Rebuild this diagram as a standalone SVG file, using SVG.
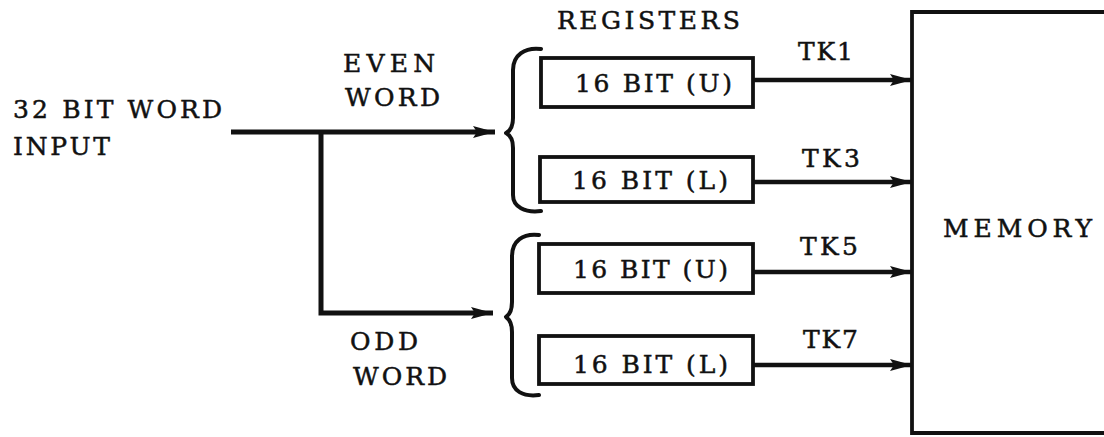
<svg xmlns="http://www.w3.org/2000/svg" width="1104" height="437" viewBox="0 0 1104 437">
  <style>
    text { font-family: "DejaVu Serif", "Liberation Serif", serif; font-size: 25px; fill: #111; stroke: #111; stroke-width: 0.5; }
    .reg { fill: none; stroke: #111; stroke-width: 3.8; }
    .wire { fill: none; stroke: #111; stroke-width: 5; stroke-linejoin: miter; }
    .bus { fill: none; stroke: #111; stroke-width: 4.3; }
    .brace { fill: none; stroke: #111; stroke-width: 4; stroke-linecap: round; stroke-linejoin: round; }
  </style>
  <defs>
    <marker id="head" markerUnits="userSpaceOnUse" markerWidth="24" markerHeight="14" refX="22" refY="7" orient="auto">
      <path d="M0,1 L22,7 L0,13 L4,7 Z" fill="#111"/>
    </marker>
  </defs>
  <rect width="1104" height="437" fill="#fff"/>

  <!-- input label -->
  <g id="input-label">
    <text x="13" y="118" textLength="209" lengthAdjust="spacing">32 BIT WORD</text>
    <text x="13" y="155" textLength="97" lengthAdjust="spacing">INPUT</text>
  </g>

  <g id="even-label">
    <text x="343" y="72" textLength="92" lengthAdjust="spacing">EVEN</text>
    <text x="345" y="106" textLength="95" lengthAdjust="spacing">WORD</text>
  </g>

  <g id="odd-label">
    <text x="350" y="350" textLength="68" lengthAdjust="spacing">ODD</text>
    <text x="353" y="385" textLength="94" lengthAdjust="spacing">WORD</text>
  </g>

  <g id="registers-title">
    <text x="557" y="29" textLength="183" lengthAdjust="spacing">REGISTERS</text>
  </g>

  <!-- register pairs grouped by braces -->
  <g id="even-brace">
    <path class="brace" d="M541,49 C525,47 513,55 513,70 L513,118 C513,127 510,131 506,133 C510,135 513,139 513,148 L513,195 C513,207 525,213 541,211"/>
  </g>
  <g id="odd-brace">
    <path class="brace" d="M539,235 C523,233 512,241 512,256 L512,302 C512,311 509,315 506,317 C509,319 512,323 512,332 L512,378 C512,391 523,397 539,395"/>
  </g>

  <g id="reg-even-upper">
    <rect class="reg" x="541" y="58" width="212" height="49"/>
    <text x="575" y="92" textLength="157" lengthAdjust="spacing">16 BIT (U)</text>
  </g>
  <g id="reg-even-lower">
    <rect class="reg" x="540" y="157" width="213" height="45"/>
    <text x="572" y="189" textLength="156" lengthAdjust="spacing">16 BIT (L)</text>
  </g>
  <g id="reg-odd-upper">
    <rect class="reg" x="539" y="244" width="214" height="49"/>
    <text x="573" y="278" textLength="155" lengthAdjust="spacing">16 BIT (U)</text>
  </g>
  <g id="reg-odd-lower">
    <rect class="reg" x="539" y="336" width="214" height="48"/>
    <text x="573" y="373" textLength="155" lengthAdjust="spacing">16 BIT (L)</text>
  </g>

  <!-- memory block, extends past the right edge -->
  <g id="memory">
    <path class="reg" d="M1110,12 H912 V433 H1110"/>
    <text x="943" y="237" textLength="149" lengthAdjust="spacing">MEMORY</text>
  </g>

  <g id="connectors">
    <path class="wire" d="M231,132 H495" marker-end="url(#head)"/>
    <path class="wire" d="M321,132 V313 H493" marker-end="url(#head)"/>
    <path class="bus" d="M753,80 H912" marker-end="url(#head)"/>
    <path class="bus" d="M753,182 H912" marker-end="url(#head)"/>
    <path class="bus" d="M753,272 H912" marker-end="url(#head)"/>
    <path class="bus" d="M753,365 H912" marker-end="url(#head)"/>
    <text x="798" y="60" textLength="55" lengthAdjust="spacing">TK1</text>
    <text x="802" y="167" textLength="58" lengthAdjust="spacing">TK3</text>
    <text x="800" y="255" textLength="58" lengthAdjust="spacing">TK5</text>
    <text x="803" y="348" textLength="55" lengthAdjust="spacing">TK7</text>
  </g>
</svg>
